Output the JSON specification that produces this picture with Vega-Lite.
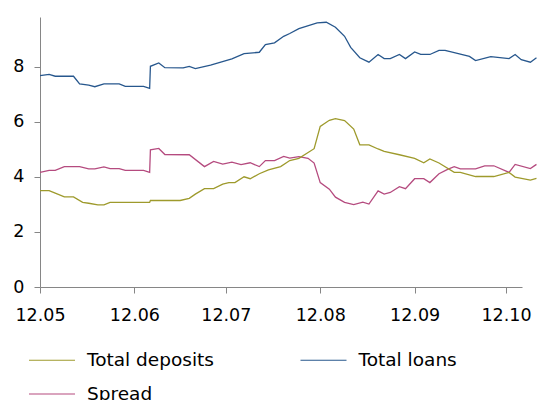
{
  "$schema": "https://vega.github.io/schema/vega-lite/v6.json",
  "width": 482,
  "height": 270,
  "autosize": "none",
  "padding": {"left": 40, "top": 17, "right": 15, "bottom": 113},
  "background": "white",
  "config": {
    "view": {"stroke": null},
    "font": "DejaVu Sans",
    "axis": {"labelFont": "DejaVu Sans", "labelFontSize": 17.5, "labelColor": "#000000", "domainColor": "#868686", "tickColor": "#868686", "tickSize": 6, "grid": false, "title": null}
  },
  "data": {
    "values": [
      {"date": "2012-05-01T00:00", "series": "Total loans", "value": 7.67},
      {"date": "2012-05-04T00:00", "series": "Total loans", "value": 7.72},
      {"date": "2012-05-06T00:00", "series": "Total loans", "value": 7.65},
      {"date": "2012-05-12T00:00", "series": "Total loans", "value": 7.65},
      {"date": "2012-05-14T00:00", "series": "Total loans", "value": 7.37},
      {"date": "2012-05-17T00:00", "series": "Total loans", "value": 7.33},
      {"date": "2012-05-19T00:00", "series": "Total loans", "value": 7.27},
      {"date": "2012-05-22T00:00", "series": "Total loans", "value": 7.37},
      {"date": "2012-05-27T00:00", "series": "Total loans", "value": 7.37},
      {"date": "2012-05-29T00:00", "series": "Total loans", "value": 7.28},
      {"date": "2012-06-04T00:00", "series": "Total loans", "value": 7.28},
      {"date": "2012-06-06T00:00", "series": "Total loans", "value": 7.21},
      {"date": "2012-06-06T06:00", "series": "Total loans", "value": 8.01},
      {"date": "2012-06-09T00:00", "series": "Total loans", "value": 8.13},
      {"date": "2012-06-11T00:00", "series": "Total loans", "value": 7.96},
      {"date": "2012-06-17T00:00", "series": "Total loans", "value": 7.95},
      {"date": "2012-06-19T00:00", "series": "Total loans", "value": 8.01},
      {"date": "2012-06-21T00:00", "series": "Total loans", "value": 7.93},
      {"date": "2012-06-26T00:00", "series": "Total loans", "value": 8.05},
      {"date": "2012-07-03T00:00", "series": "Total loans", "value": 8.28},
      {"date": "2012-07-07T00:00", "series": "Total loans", "value": 8.47},
      {"date": "2012-07-12T00:00", "series": "Total loans", "value": 8.52},
      {"date": "2012-07-14T00:00", "series": "Total loans", "value": 8.8},
      {"date": "2012-07-17T00:00", "series": "Total loans", "value": 8.86},
      {"date": "2012-07-20T00:00", "series": "Total loans", "value": 9.1},
      {"date": "2012-07-22T00:00", "series": "Total loans", "value": 9.2},
      {"date": "2012-07-25T00:00", "series": "Total loans", "value": 9.38},
      {"date": "2012-07-31T00:00", "series": "Total loans", "value": 9.59},
      {"date": "2012-08-03T00:00", "series": "Total loans", "value": 9.61},
      {"date": "2012-08-06T00:00", "series": "Total loans", "value": 9.43},
      {"date": "2012-08-09T00:00", "series": "Total loans", "value": 9.1},
      {"date": "2012-08-11T00:00", "series": "Total loans", "value": 8.7},
      {"date": "2012-08-14T00:00", "series": "Total loans", "value": 8.32},
      {"date": "2012-08-17T00:00", "series": "Total loans", "value": 8.16},
      {"date": "2012-08-20T00:00", "series": "Total loans", "value": 8.44},
      {"date": "2012-08-22T00:00", "series": "Total loans", "value": 8.29},
      {"date": "2012-08-24T00:00", "series": "Total loans", "value": 8.29},
      {"date": "2012-08-27T00:00", "series": "Total loans", "value": 8.44},
      {"date": "2012-08-29T00:00", "series": "Total loans", "value": 8.29},
      {"date": "2012-09-01T00:00", "series": "Total loans", "value": 8.53},
      {"date": "2012-09-03T00:00", "series": "Total loans", "value": 8.44},
      {"date": "2012-09-06T00:00", "series": "Total loans", "value": 8.44},
      {"date": "2012-09-09T00:00", "series": "Total loans", "value": 8.59},
      {"date": "2012-09-11T00:00", "series": "Total loans", "value": 8.59},
      {"date": "2012-09-19T00:00", "series": "Total loans", "value": 8.37},
      {"date": "2012-09-21T00:00", "series": "Total loans", "value": 8.22},
      {"date": "2012-09-26T00:00", "series": "Total loans", "value": 8.36},
      {"date": "2012-10-02T00:00", "series": "Total loans", "value": 8.29},
      {"date": "2012-10-04T00:00", "series": "Total loans", "value": 8.44},
      {"date": "2012-10-06T00:00", "series": "Total loans", "value": 8.25},
      {"date": "2012-10-09T00:00", "series": "Total loans", "value": 8.16},
      {"date": "2012-10-11T00:00", "series": "Total loans", "value": 8.32},

      {"date": "2012-05-01T00:00", "series": "Spread", "value": 4.16},
      {"date": "2012-05-04T00:00", "series": "Spread", "value": 4.23},
      {"date": "2012-05-06T00:00", "series": "Spread", "value": 4.23},
      {"date": "2012-05-09T00:00", "series": "Spread", "value": 4.37},
      {"date": "2012-05-14T00:00", "series": "Spread", "value": 4.37},
      {"date": "2012-05-17T00:00", "series": "Spread", "value": 4.29},
      {"date": "2012-05-19T00:00", "series": "Spread", "value": 4.29},
      {"date": "2012-05-22T00:00", "series": "Spread", "value": 4.36},
      {"date": "2012-05-24T00:00", "series": "Spread", "value": 4.3},
      {"date": "2012-05-27T00:00", "series": "Spread", "value": 4.3},
      {"date": "2012-05-29T00:00", "series": "Spread", "value": 4.23},
      {"date": "2012-06-04T00:00", "series": "Spread", "value": 4.23},
      {"date": "2012-06-06T00:00", "series": "Spread", "value": 4.16},
      {"date": "2012-06-06T06:00", "series": "Spread", "value": 4.98},
      {"date": "2012-06-09T00:00", "series": "Spread", "value": 5.03},
      {"date": "2012-06-11T00:00", "series": "Spread", "value": 4.81},
      {"date": "2012-06-19T00:00", "series": "Spread", "value": 4.8},
      {"date": "2012-06-24T00:00", "series": "Spread", "value": 4.37},
      {"date": "2012-06-27T00:00", "series": "Spread", "value": 4.56},
      {"date": "2012-06-30T00:00", "series": "Spread", "value": 4.46},
      {"date": "2012-07-03T00:00", "series": "Spread", "value": 4.53},
      {"date": "2012-07-06T00:00", "series": "Spread", "value": 4.44},
      {"date": "2012-07-09T00:00", "series": "Spread", "value": 4.51},
      {"date": "2012-07-12T00:00", "series": "Spread", "value": 4.37},
      {"date": "2012-07-14T00:00", "series": "Spread", "value": 4.59},
      {"date": "2012-07-17T00:00", "series": "Spread", "value": 4.59},
      {"date": "2012-07-20T00:00", "series": "Spread", "value": 4.74},
      {"date": "2012-07-22T00:00", "series": "Spread", "value": 4.68},
      {"date": "2012-07-25T00:00", "series": "Spread", "value": 4.73},
      {"date": "2012-07-28T00:00", "series": "Spread", "value": 4.67},
      {"date": "2012-07-30T00:00", "series": "Spread", "value": 4.5},
      {"date": "2012-08-01T00:00", "series": "Spread", "value": 3.79},
      {"date": "2012-08-04T00:00", "series": "Spread", "value": 3.55},
      {"date": "2012-08-06T00:00", "series": "Spread", "value": 3.26},
      {"date": "2012-08-09T00:00", "series": "Spread", "value": 3.07},
      {"date": "2012-08-12T00:00", "series": "Spread", "value": 2.99},
      {"date": "2012-08-15T00:00", "series": "Spread", "value": 3.08},
      {"date": "2012-08-17T00:00", "series": "Spread", "value": 3.01},
      {"date": "2012-08-20T00:00", "series": "Spread", "value": 3.49},
      {"date": "2012-08-22T00:00", "series": "Spread", "value": 3.37},
      {"date": "2012-08-24T00:00", "series": "Spread", "value": 3.43},
      {"date": "2012-08-27T00:00", "series": "Spread", "value": 3.64},
      {"date": "2012-08-29T00:00", "series": "Spread", "value": 3.57},
      {"date": "2012-09-01T00:00", "series": "Spread", "value": 3.93},
      {"date": "2012-09-04T00:00", "series": "Spread", "value": 3.93},
      {"date": "2012-09-06T00:00", "series": "Spread", "value": 3.79},
      {"date": "2012-09-09T00:00", "series": "Spread", "value": 4.11},
      {"date": "2012-09-12T00:00", "series": "Spread", "value": 4.28},
      {"date": "2012-09-14T00:00", "series": "Spread", "value": 4.37},
      {"date": "2012-09-16T00:00", "series": "Spread", "value": 4.29},
      {"date": "2012-09-21T00:00", "series": "Spread", "value": 4.29},
      {"date": "2012-09-24T00:00", "series": "Spread", "value": 4.4},
      {"date": "2012-09-27T00:00", "series": "Spread", "value": 4.4},
      {"date": "2012-10-02T00:00", "series": "Spread", "value": 4.16},
      {"date": "2012-10-04T00:00", "series": "Spread", "value": 4.45},
      {"date": "2012-10-09T00:00", "series": "Spread", "value": 4.3},
      {"date": "2012-10-11T00:00", "series": "Spread", "value": 4.45},

      {"date": "2012-05-01T00:00", "series": "Total deposits", "value": 3.5},
      {"date": "2012-05-04T00:00", "series": "Total deposits", "value": 3.5},
      {"date": "2012-05-06T00:00", "series": "Total deposits", "value": 3.41},
      {"date": "2012-05-09T00:00", "series": "Total deposits", "value": 3.27},
      {"date": "2012-05-12T00:00", "series": "Total deposits", "value": 3.27},
      {"date": "2012-05-15T00:00", "series": "Total deposits", "value": 3.07},
      {"date": "2012-05-17T00:00", "series": "Total deposits", "value": 3.04},
      {"date": "2012-05-20T00:00", "series": "Total deposits", "value": 2.98},
      {"date": "2012-05-22T00:00", "series": "Total deposits", "value": 2.98},
      {"date": "2012-05-24T00:00", "series": "Total deposits", "value": 3.07},
      {"date": "2012-06-06T00:00", "series": "Total deposits", "value": 3.07},
      {"date": "2012-06-06T06:00", "series": "Total deposits", "value": 3.14},
      {"date": "2012-06-16T00:00", "series": "Total deposits", "value": 3.14},
      {"date": "2012-06-19T00:00", "series": "Total deposits", "value": 3.22},
      {"date": "2012-06-21T00:00", "series": "Total deposits", "value": 3.37},
      {"date": "2012-06-24T00:00", "series": "Total deposits", "value": 3.57},
      {"date": "2012-06-27T00:00", "series": "Total deposits", "value": 3.57},
      {"date": "2012-06-30T00:00", "series": "Total deposits", "value": 3.73},
      {"date": "2012-07-02T00:00", "series": "Total deposits", "value": 3.79},
      {"date": "2012-07-04T00:00", "series": "Total deposits", "value": 3.79},
      {"date": "2012-07-07T00:00", "series": "Total deposits", "value": 4.0},
      {"date": "2012-07-09T00:00", "series": "Total deposits", "value": 3.93},
      {"date": "2012-07-12T00:00", "series": "Total deposits", "value": 4.11},
      {"date": "2012-07-15T00:00", "series": "Total deposits", "value": 4.25},
      {"date": "2012-07-19T00:00", "series": "Total deposits", "value": 4.37},
      {"date": "2012-07-22T00:00", "series": "Total deposits", "value": 4.59},
      {"date": "2012-07-25T00:00", "series": "Total deposits", "value": 4.67},
      {"date": "2012-07-30T00:00", "series": "Total deposits", "value": 5.02},
      {"date": "2012-08-01T00:00", "series": "Total deposits", "value": 5.83},
      {"date": "2012-08-04T00:00", "series": "Total deposits", "value": 6.05},
      {"date": "2012-08-06T00:00", "series": "Total deposits", "value": 6.11},
      {"date": "2012-08-09T00:00", "series": "Total deposits", "value": 6.04},
      {"date": "2012-08-12T00:00", "series": "Total deposits", "value": 5.73},
      {"date": "2012-08-14T00:00", "series": "Total deposits", "value": 5.16},
      {"date": "2012-08-17T00:00", "series": "Total deposits", "value": 5.16},
      {"date": "2012-08-20T00:00", "series": "Total deposits", "value": 5.01},
      {"date": "2012-08-22T00:00", "series": "Total deposits", "value": 4.92},
      {"date": "2012-08-27T00:00", "series": "Total deposits", "value": 4.8},
      {"date": "2012-09-01T00:00", "series": "Total deposits", "value": 4.67},
      {"date": "2012-09-04T00:00", "series": "Total deposits", "value": 4.51},
      {"date": "2012-09-06T00:00", "series": "Total deposits", "value": 4.65},
      {"date": "2012-09-09T00:00", "series": "Total deposits", "value": 4.5},
      {"date": "2012-09-14T00:00", "series": "Total deposits", "value": 4.16},
      {"date": "2012-09-16T00:00", "series": "Total deposits", "value": 4.16},
      {"date": "2012-09-21T00:00", "series": "Total deposits", "value": 4.01},
      {"date": "2012-09-27T00:00", "series": "Total deposits", "value": 4.01},
      {"date": "2012-10-02T00:00", "series": "Total deposits", "value": 4.16},
      {"date": "2012-10-04T00:00", "series": "Total deposits", "value": 3.99},
      {"date": "2012-10-09T00:00", "series": "Total deposits", "value": 3.88},
      {"date": "2012-10-11T00:00", "series": "Total deposits", "value": 3.94}
    ]
  },
  "mark": {"type": "line", "strokeWidth": 1.3, "clip": false},
  "encoding": {
    "x": {
      "field": "date",
      "type": "temporal",
      "scale": {"domain": [{"year": 2012, "month": 5, "date": 1}, {"year": 2012, "month": 10, "date": 6, "hours": 6}]},
      "axis": {"format": "%y.%m", "tickCount": {"interval": "month", "step": 1}, "labelPadding": 13, "labelFlush": false, "labelOverlap": false}
    },
    "y": {
      "field": "value",
      "type": "quantitative",
      "scale": {"domain": [0, 9.8], "nice": false},
      "axis": {"values": [0, 2, 4, 6, 8], "labelPadding": 10}
    },
    "color": {
      "field": "series",
      "type": "nominal",
      "scale": {"domain": ["Total deposits", "Total loans", "Spread"], "range": ["#9e9a2c", "#27578d", "#b54b7f"]},
      "legend": {
        "title": null,
        "orient": "none",
        "legendX": -12,
        "legendY": 319,
        "direction": "horizontal",
        "columns": 2,
        "symbolType": "stroke",
        "symbolSize": 2116,
        "symbolStrokeWidth": 1.2,
        "labelFont": "DejaVu Sans",
        "labelFontSize": 18.5,
        "labelColor": "#000000",
        "labelOffset": 11,
        "columnPadding": 83.5,
        "rowPadding": 0
      }
    }
  }
}
